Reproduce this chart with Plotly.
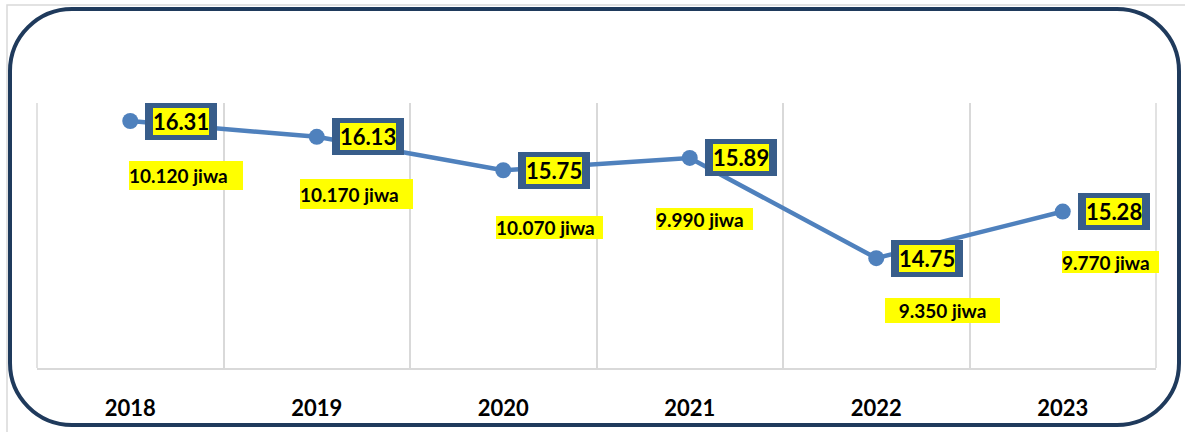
import plotly.graph_objects as go

# data
years = ["2018", "2019", "2020", "2021", "2022", "2023"]
rates = [16.31, 16.13, 15.75, 15.89, 14.75, 15.28]
people = ["10.120 jiwa", "10.170 jiwa", "10.070 jiwa", "9.990 jiwa", "9.350 jiwa", "9.770 jiwa"]

W, H = 1185, 432
L, R, T, B = 37, 29, 103, 64
LINE_BLUE = "#4F81BD"
BOX_BLUE = "#385D8A"
NAVY = "#1F3A5C"
YELLOW = "#FFFF00"
GRID = "#D9D9D9"
FONT = "Lato"


def px(x, y):
    # pixel -> paper coords
    return (x - L) / (W - L - R), (H - B - y) / (H - T - B)


fig = go.Figure()
fig.add_trace(go.Scatter(
    x=years, y=rates, mode="lines+markers",
    line=dict(color=LINE_BLUE, width=4.5),
    marker=dict(color=LINE_BLUE, size=16),
    hoverinfo="skip",
))

# value boxes: dark frame + yellow inner box (x given as category index)
for i, v in enumerate(rates):
    fig.add_annotation(x=i, y=v, text=" ", showarrow=False, xshift=51,
                       width=72, height=37, bgcolor=BOX_BLUE, borderpad=0, borderwidth=0,
                       font=dict(family=FONT, size=10))
    fig.add_annotation(x=i, y=v, text=f"<b>{v:.2f}</b>", showarrow=False, xshift=51,
                       width=56, height=27, bgcolor=YELLOW, borderpad=0, borderwidth=0,
                       font=dict(family=FONT, size=22, color="black"))

# "jiwa" labels (offset from marker: dx to box left, dy to box centre, box width, height, align)
jiwa_style = [(-1, 54, 114, 29, "left"), (-17, 57, 113, 30, "left"), (-7, 57, 107, 23, "left"),
              (-34, 61, 97, 22, "left"), (9, 52, 115, 25, "center"), (-1, 50, 97, 22, "left")]
for i, (v, txt, (dx, dy, w, h, al)) in enumerate(zip(rates, people, jiwa_style)):
    fig.add_annotation(x=i, y=v, text=f"<b>{txt}</b>", showarrow=False,
                       xanchor="left", yanchor="middle", xshift=dx, yshift=-dy,
                       width=w, height=h, align=al, bgcolor=YELLOW,
                       borderpad=0, borderwidth=0,
                       font=dict(family=FONT, size=19, color="black"))

# edge gridlines (plotly drops the ones on the plot border)
for xe in (0, 1):
    fig.add_shape(type="line", xref="paper", yref="paper", x0=xe, x1=xe, y0=0, y1=1,
                  line=dict(color=GRID, width=1.5), layer="below")

# rounded frame
x0, y0 = px(10, 9)
x1, y1 = px(1179, 425)
rx = 62 / (W - L - R)
ry = 62 / (H - T - B)
k = 0.5523
path = (
    f"M {x0 + rx},{y0} L {x1 - rx},{y0} "
    f"C {x1 - rx + k * rx},{y0} {x1},{y0 - ry + k * ry} {x1},{y0 - ry} "
    f"L {x1},{y1 + ry} "
    f"C {x1},{y1 + ry - k * ry} {x1 - rx + k * rx},{y1} {x1 - rx},{y1} "
    f"L {x0 + rx},{y1} "
    f"C {x0 + rx - k * rx},{y1} {x0},{y1 + ry - k * ry} {x0},{y1 + ry} "
    f"L {x0},{y0 - ry} "
    f"C {x0},{y0 - ry + k * ry} {x0 + rx - k * rx},{y0} {x0 + rx},{y0} Z"
)
fig.add_shape(type="path", path=path, xref="paper", yref="paper",
              line=dict(color=NAVY, width=4))

# faint outer frame of the slide
fx0, fy0 = px(7, 5)
fx1, fy1 = px(1195, 445)
fig.add_shape(type="rect", xref="paper", yref="paper", x0=fx0, y0=fy0, x1=fx1, y1=fy1,
              line=dict(color=GRID, width=1.5))

fig.update_xaxes(
    type="category", range=[-0.5, 5.5], tickson="boundaries",
    showgrid=True, gridcolor=GRID, gridwidth=1.5,
    showline=True, linecolor=GRID, linewidth=1.5,
    ticks="", ticklabelstandoff=20,
    tickfont=dict(family=FONT, size=22, color="black", weight="bold"),
    fixedrange=True,
)
fig.update_yaxes(range=[13.5, 16.515], visible=False, showgrid=False, fixedrange=True)

fig.update_layout(
    width=W, height=H,
    margin=dict(l=L, r=R, t=T, b=B),
    plot_bgcolor="white", paper_bgcolor="white",
    showlegend=False,
)

fig.write_html("out.html", config={"displayModeBar": False},
               post_script="document.body.style.margin='0px';")
